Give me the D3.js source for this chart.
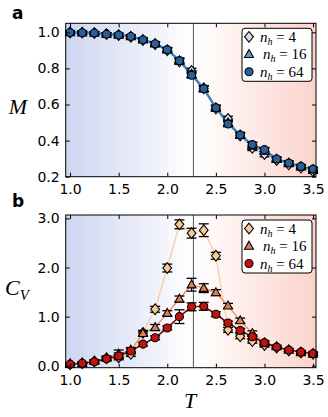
<!DOCTYPE html>
<html>
<head>
<meta charset="utf-8">
<script src="https://cdn.jsdelivr.net/npm/d3@7"></script>
<style>
  body { margin: 0; background: #fff; }
  svg text { font-family: "DejaVu Sans", sans-serif; }
  .tick text { font-size: 14px; fill: #000; }
  .math { font-family: "Liberation Serif", serif; font-style: italic; }
</style>
</head>
<body>
<svg id="chart" width="328" height="417"></svg>
<script>
// temperatures
const temps = [1.0, 1.125, 1.25, 1.375, 1.5, 1.625, 1.75, 1.875, 2.0, 2.125, 2.25,
  2.375, 2.5, 2.625, 2.75, 2.875, 3.0, 3.125, 3.25, 3.375, 3.5];
const Tc = 2.269;
const sizes = [4, 16, 64];

// magnetisation
const mag4 = [0.999, 0.998, 0.996, 0.990, 0.984, 0.975, 0.957, 0.934, 0.900, 0.838, 0.786,
  0.690, 0.578, 0.520, 0.428, 0.360, 0.325, 0.292, 0.268, 0.250, 0.230];
const mag16 = [0.999, 0.998, 0.996, 0.990, 0.985, 0.977, 0.959, 0.937, 0.903, 0.843, 0.768,
  0.688, 0.582, 0.498, 0.431, 0.372, 0.342, 0.298, 0.276, 0.256, 0.240];
const mag64 = [0.999, 0.998, 0.996, 0.990, 0.985, 0.977, 0.959, 0.937, 0.904, 0.843, 0.762,
  0.687, 0.582, 0.492, 0.431, 0.378, 0.350, 0.298, 0.276, 0.257, 0.242];
const magErr4 = [0.008, 0.008, 0.008, 0.008, 0.01, 0.01, 0.012, 0.012, 0.012, 0.015, 0.015,
  0.015, 0.015, 0.015, 0.015, 0.015, 0.015, 0.012, 0.012, 0.012, 0.012];
const magErr16 = [0.008, 0.008, 0.008, 0.008, 0.01, 0.01, 0.01, 0.012, 0.012, 0.015, 0.018,
  0.015, 0.015, 0.015, 0.015, 0.018, 0.015, 0.012, 0.012, 0.012, 0.012];
const magErr64 = [0.008, 0.008, 0.008, 0.008, 0.008, 0.01, 0.01, 0.01, 0.012, 0.012, 0.015,
  0.015, 0.012, 0.015, 0.012, 0.012, 0.012, 0.01, 0.01, 0.01, 0.01];

// specific heat
const cv4 = [0.03, 0.05, 0.09, 0.15, 0.17, 0.24, 0.67, 1.15, 1.99, 2.88, 2.70,
  2.76, 2.24, 0.73, 0.60, 0.50, 0.42, 0.37, 0.31, 0.27, 0.24];
const cv16 = [0.03, 0.05, 0.09, 0.16, 0.24, 0.32, 0.66, 0.78, 1.07, 1.36, 1.65,
  1.58, 1.49, 1.22, 0.92, 0.66, 0.47, 0.39, 0.32, 0.27, 0.24];
const cv64 = [0.03, 0.05, 0.08, 0.14, 0.20, 0.30, 0.44, 0.57, 0.77, 1.00, 1.20,
  1.21, 1.05, 0.87, 0.72, 0.59, 0.47, 0.38, 0.32, 0.28, 0.25];
const cvErr4 = [0.02, 0.02, 0.03, 0.03, 0.05, 0.05, 0.05, 0.06, 0.08, 0.09, 0.10,
  0.13, 0.07, 0.05, 0.05, 0.04, 0.04, 0.03, 0.03, 0.03, 0.03];
const cvErr16 = [0.02, 0.02, 0.03, 0.04, 0.08, 0.05, 0.05, 0.06, 0.05, 0.06, 0.13,
  0.09, 0.06, 0.05, 0.05, 0.05, 0.04, 0.03, 0.03, 0.03, 0.03];
const cvErr64 = [0.02, 0.02, 0.03, 0.03, 0.06, 0.04, 0.04, 0.04, 0.04, 0.14, 0.08,
  0.08, 0.05, 0.04, 0.04, 0.04, 0.03, 0.03, 0.03, 0.03, 0.03];

const xTicks = [1.0, 1.5, 2.0, 2.5, 3.0, 3.5];
const magTicks = [0.2, 0.4, 0.6, 0.8, 1.0];
const cvTicks = [0.0, 1.0, 2.0, 3.0];

const svg = d3.select("#chart");
const plotLeft = 65.7, plotRight = 316;

const x = d3.scaleLinear().domain([0.955, 3.53]).range([plotLeft, plotRight]);

const shapes = ["diamond", "triangle", "circle"];

function marker(g, shape, fill) {
    let m;
    if (shape === "diamond") {
        m = g.append("path").attr("d", "M0,-5.3L4.4,0L0,5.3L-4.4,0Z");
    } else if (shape === "triangle") {
        m = g.append("path").attr("d", "M0,-4.8L4.5,3.2L-4.5,3.2Z");
    } else {
        m = g.append("circle").attr("r", 4);
    }
    m.attr("fill", fill).attr("stroke", "#000").attr("stroke-width", 1.1);
    return m;
}

function panel(opts) {
    const y = d3.scaleLinear().domain(opts.yDomain).range([opts.bottom, opts.top]);
    const g = svg.append("g");
    const gid = "grad" + opts.key;

    // background gradient, blue -> white at Tc -> red
    const lg = svg.append("defs").append("linearGradient")
        .attr("id", gid)
        .attr("gradientUnits", "userSpaceOnUse")
        .attr("x1", plotLeft).attr("x2", plotRight)
        .attr("y1", 0).attr("y2", 0);
    lg.append("stop").attr("offset", "0%").attr("stop-color", "rgb(206,213,240)");
    lg.append("stop").attr("offset", ((x(Tc) - plotLeft) / (plotRight - plotLeft) * 100) + "%")
        .attr("stop-color", "#ffffff");
    lg.append("stop").attr("offset", "100%").attr("stop-color", "rgb(251,211,204)");

    g.append("rect")
        .attr("x", plotLeft).attr("y", opts.top)
        .attr("width", plotRight - plotLeft).attr("height", opts.bottom - opts.top)
        .style("fill", "url(#" + gid + ")");

    g.append("line")
        .attr("x1", x(Tc)).attr("x2", x(Tc))
        .attr("y1", opts.top).attr("y2", opts.bottom)
        .style("stroke", "#555").style("stroke-width", 1);

    // lines
    const line = d3.line().x((d, i) => x(temps[i])).y(d => y(d));
    opts.series.forEach((s, k) => {
        g.append("path")
            .datum(s.values)
            .attr("d", line)
            .attr("fill", "none")
            .style("stroke", opts.lineColors[k])
            .style("stroke-width", opts.lineWidths[k]);
    });

    // error bars + markers
    opts.series.forEach((s, k) => {
        const eb = g.append("g");
        s.values.forEach((v, i) => {
            const cx = x(temps[i]);
            const y0 = y(v - s.err[i]), y1 = y(v + s.err[i]);
            eb.append("line").attr("x1", cx).attr("x2", cx).attr("y1", y0).attr("y2", y1)
                .style("stroke", "#000").style("stroke-width", 1.2);
            [y0, y1].forEach(yy => eb.append("line")
                .attr("x1", cx - 5).attr("x2", cx + 5).attr("y1", yy).attr("y2", yy)
                .style("stroke", "#000").style("stroke-width", 1.3));
        });
        s.values.forEach((v, i) => {
            const mg = g.append("g").attr("transform", `translate(${x(temps[i])},${y(v)})`);
            marker(mg, shapes[k], opts.colors[k]);
        });
    });

    // axes, ticks pointing inward
    const ax = g.append("g").attr("class", "axes");
    ax.append("g").attr("transform", `translate(0,${opts.bottom})`)
        .call(d3.axisBottom(x).tickValues(xTicks).tickFormat(d3.format(".1f")).tickSize(-4).tickPadding(7));
    ax.append("g").attr("transform", `translate(0,${opts.top})`)
        .call(d3.axisTop(x).tickValues(xTicks).tickFormat("").tickSize(-4));
    ax.append("g").attr("transform", `translate(${plotLeft},0)`)
        .call(d3.axisLeft(y).tickValues(opts.yTicks).tickFormat(d3.format(".1f")).tickSize(-4).tickPadding(6));
    ax.append("g").attr("transform", `translate(${plotRight},0)`)
        .call(d3.axisRight(y).tickValues(opts.yTicks).tickFormat("").tickSize(-4));
    ax.selectAll(".domain").remove();
    ax.selectAll(".tick line").style("stroke", "#000");
    ax.selectAll(".tick text").style("font-size", "14px").style("font-family", "DejaVu Sans, sans-serif");

    g.append("rect")
        .attr("x", plotLeft).attr("y", opts.top)
        .attr("width", plotRight - plotLeft).attr("height", opts.bottom - opts.top)
        .attr("fill", "none").style("stroke", "#000").style("stroke-width", 1);

    // legend
    const lx = 242, ly = opts.top + 5;
    const leg = g.append("g");
    leg.append("rect")
        .attr("x", lx).attr("y", ly).attr("width", 70).attr("height", 53)
        .attr("rx", 3).attr("fill", "#fff").style("stroke", "#000").style("stroke-width", 1);
    sizes.forEach((n, k) => {
        const ry = ly + 8.5 + k * 17.5;
        const mg = leg.append("g").attr("transform", `translate(${lx + 7},${ry})`);
        marker(mg, shapes[k], opts.colors[k]);
        const t = leg.append("text")
            .attr("x", lx + 18 + (k === 1 ? 3 : 0)).attr("y", ry + 5)
            .style("font-size", "15px").style("font-family", "Liberation Serif, serif");
        t.append("tspan").style("font-style", "italic").text("n");
        t.append("tspan").style("font-style", "italic").style("font-size", "10px")
            .attr("dy", 3).text("h");
        t.append("tspan").attr("dy", -3).text(" = " + n);
    });

    return y;
}

panel({
    key: "a", top: 23.3, bottom: 176.7, yDomain: [0.2, 1.05], yTicks: magTicks,
    series: [{values: mag4, err: magErr4}, {values: mag16, err: magErr16}, {values: mag64, err: magErr64}],
    colors: ["#d9d9f2", "#5c9fd2", "#2a5f9c"],
    lineColors: ["#b9c7e6", "#6aaedb", "#2f7fbd"],
    lineWidths: [1, 2.5, 1.8]
});

panel({
    key: "b", top: 215, bottom: 367.7, yDomain: [-0.04, 3.07], yTicks: cvTicks,
    series: [{values: cv4, err: cvErr4}, {values: cv16, err: cvErr16}, {values: cv64, err: cvErr64}],
    colors: ["#f9c992", "#e27a52", "#c3120e"],
    lineColors: ["#fdc995", "#f08a60", "#7a0a08"],
    lineWidths: [1.2, 1.3, 1.6]
});

// panel letters
svg.append("text").attr("x", 12).attr("y", 19).text("a")
    .style("font-size", "17px").style("font-weight", "bold");
svg.append("text").attr("x", 12).attr("y", 207).text("b")
    .style("font-size", "17px").style("font-weight", "bold");

// axis labels
svg.append("text").attr("class", "math").attr("x", 18).attr("y", 114)
    .attr("text-anchor", "middle").style("font-size", "22px").text("M");
const cvl = svg.append("text").attr("class", "math").attr("x", 5).attr("y", 295)
    .style("font-size", "22px");
cvl.append("tspan").text("C");
cvl.append("tspan").attr("dy", 5).style("font-size", "15px").text("V");
svg.append("text").attr("class", "math").attr("x", 190).attr("y", 408)
    .attr("text-anchor", "middle").style("font-size", "22px").text("T");
</script>
</body>
</html>
